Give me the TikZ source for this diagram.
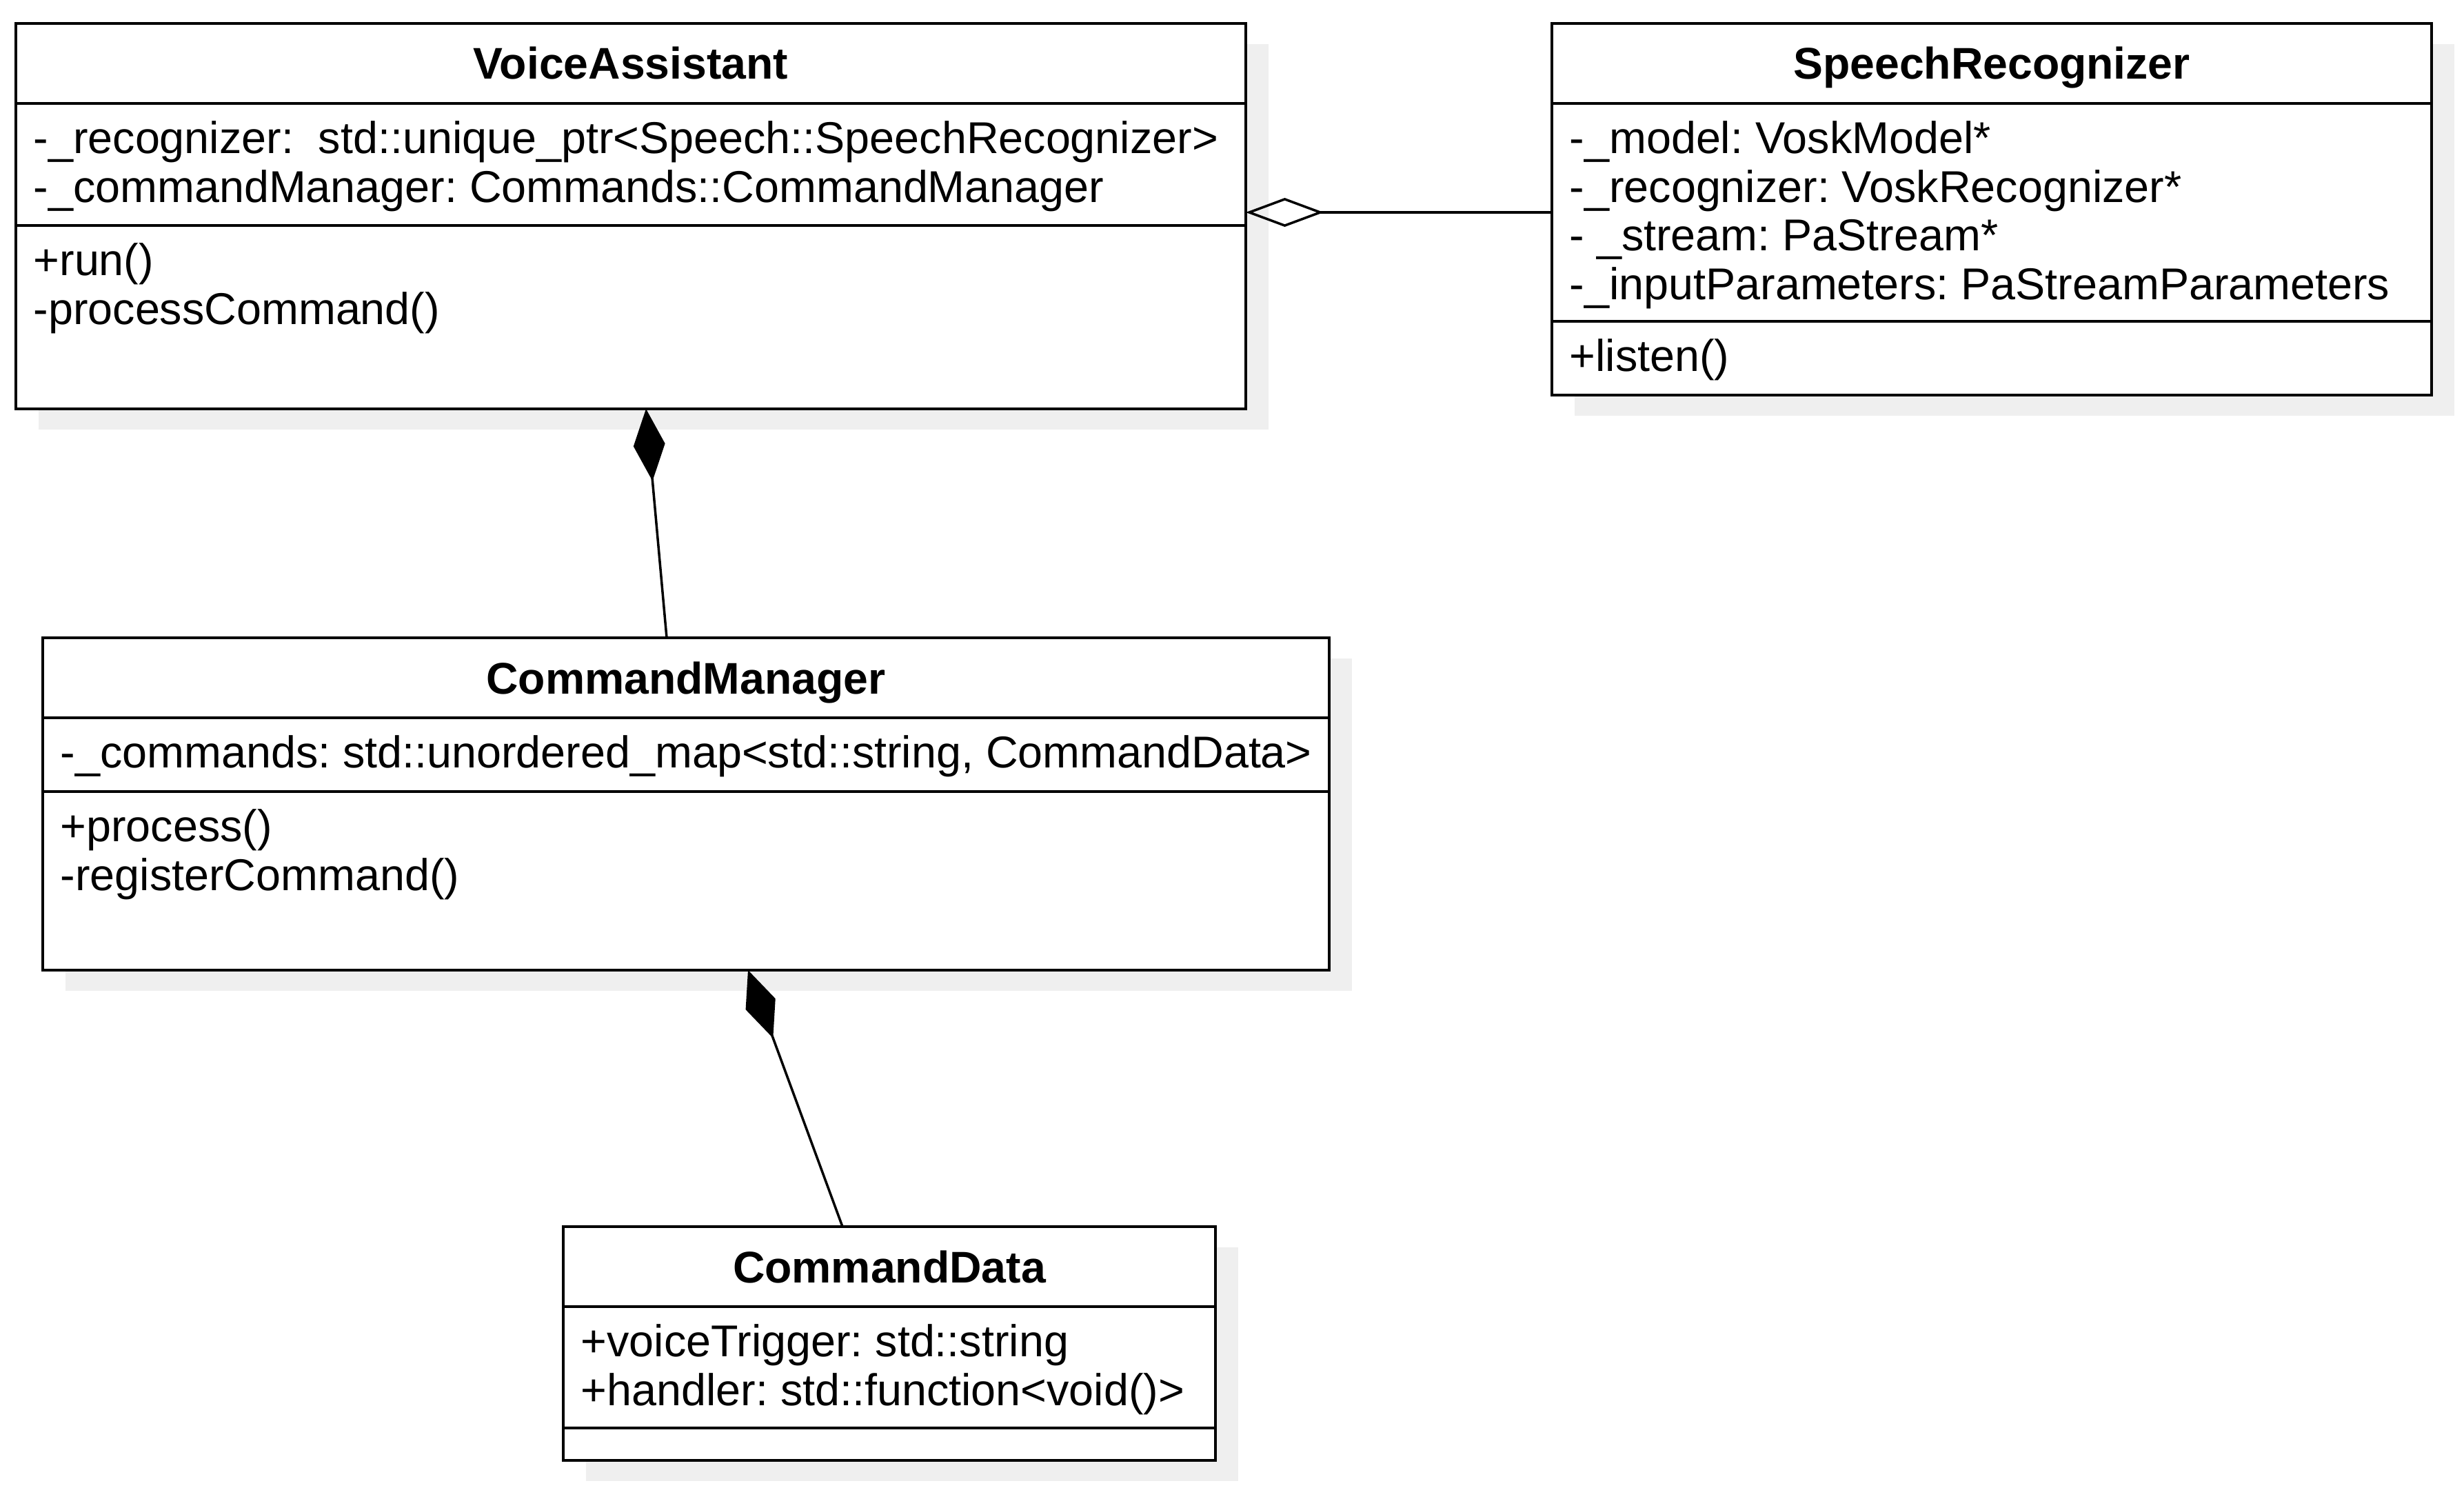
\documentclass[tikz,border=0pt]{standalone}
\usepackage{fontspec}
\setmainfont{Liberation Sans}
\usetikzlibrary{arrows.meta,positioning,backgrounds}
\definecolor{umlshadow}{HTML}{EFEFEF}
\frenchspacing

\begin{document}
\begin{tikzpicture}[every node/.style={font=\fontsize{18.4}{20.1}\selectfont},
  part/.style={draw,line width=1.35pt,fill=white,outer sep=0pt,inner sep=0pt,
               anchor=north west},
  classname/.style={part,minimum height=1.16cm,text height=0.46cm,text depth=0pt,
               font=\fontsize{18.3}{20.1}\selectfont\bfseries},
  members/.style={anchor=north west,align=left,inner xsep=0.25cm,inner ysep=0.225cm},
  comp/.style={arrows={Diamond[length=1.05cm,width=0.46cm]-},line width=1pt},
  aggr/.style={arrows={Diamond[open,length=1.13cm,width=0.42cm]-},line width=1pt}]
 \useasboundingbox (0,0) rectangle (35.74,-21.74);
 % VoiceAssistant
 \node[classname,minimum width=17.84cm] (va) at (0.23,-0.34) {VoiceAssistant};
 \node[part,minimum width=17.84cm,minimum height=1.77cm,below=0pt of va,
   label={[members]north west:{\strut-\_recognizer:\ \ std::unique\_ptr<Speech::SpeechRecognizer>\\
     \strut-\_commandManager: Commands::CommandManager}}] (vaAttr) {};
 \node[part,minimum width=17.84cm,minimum height=2.66cm,below=0pt of vaAttr,
   label={[members]north west:{\strut+run()\\\strut-processCommand()}}] (vaOps) {};
 % SpeechRecognizer
 \node[classname,minimum width=12.76cm] (sr) at (22.51,-0.34) {SpeechRecognizer};
 \node[part,minimum width=12.76cm,minimum height=3.16cm,below=0pt of sr,
   label={[members]north west:{\strut-\_model: VoskModel*\\
     \strut-\_recognizer: VoskRecognizer*\\
     \strut- \_stream: PaStream*\\
     \strut-\_inputParameters: PaStreamParameters}}] (srAttr) {};
 \node[part,minimum width=12.76cm,minimum height=1.07cm,below=0pt of srAttr,
   label={[members]north west:{\strut+listen()}}] (srOps) {};
 % CommandManager
 \node[classname,minimum width=18.66cm] (cm) at (0.62,-9.25) {CommandManager};
 \node[part,minimum width=18.66cm,minimum height=1.07cm,below=0pt of cm,
   label={[members]north west:{\strut-\_commands: std::unordered\_map<std::string, CommandData>}}] (cmAttr) {};
 \node[part,minimum width=18.66cm,minimum height=2.59cm,below=0pt of cmAttr,
   label={[members]north west:{\strut+process()\\\strut-registerCommand()}}] (cmOps) {};
 % CommandData
 \node[classname,minimum width=9.46cm] (cd) at (8.17,-17.79) {CommandData};
 \node[part,minimum width=9.46cm,minimum height=1.76cm,below=0pt of cd,
   label={[members]north west:{\strut+voiceTrigger: std::string\\
     \strut+handler: std::function<void()>}}] (cdAttr) {};
 \node[part,minimum width=9.46cm,minimum height=0.47cm,below=0pt of cdAttr] (cdOps) {};
 % shadows
 \begin{scope}[on background layer]
  \foreach \head/\foot in {va/vaOps,sr/srOps,cm/cmOps,cd/cdOps}
   \fill[umlshadow] ([shift={(0.33,-0.30)}]\head.north west)
     rectangle ([shift={(0.33,-0.30)}]\foot.south east);
 \end{scope}
 % relations
 \draw[aggr] (vaAttr.east |- srAttr.west) -- (srAttr.west);
 \draw[comp] ([xshift=0.22cm]vaOps.south) -- ([xshift=-0.28cm]cm.north);
 \draw[comp] ([xshift=0.90cm]cmOps.south) -- ([xshift=-0.68cm]cd.north);
\end{tikzpicture}
\end{document}
